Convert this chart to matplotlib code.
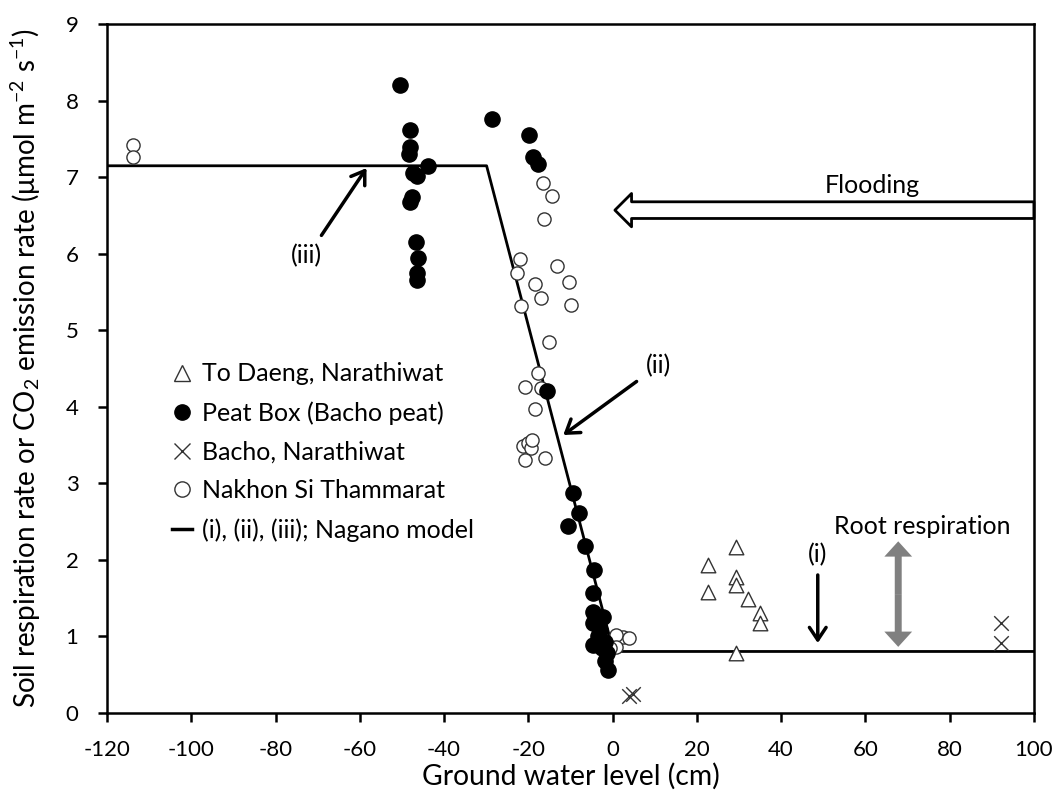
import matplotlib
matplotlib.use("Agg")
import matplotlib.pyplot as plt
from matplotlib.lines import Line2D

plt.rcParams['font.family'] = ['Lato', 'DejaVu Sans']
plt.rcParams['axes.unicode_minus'] = False
plt.rcParams['mathtext.fontset'] = 'custom'
plt.rcParams['mathtext.rm'] = 'Lato'
plt.rcParams['mathtext.it'] = 'Lato:italic'

# Peat Box (Bacho peat) - filled circles
peat_x = [-50.5, -48.1, -48.0, -48.2, -43.8, -47.3, -46.4, -48.0, -47.6, -46.7, -46.1, -46.5, -46.4,
          -28.7, -19.9, -18.8, -17.6, -15.5, -9.5, -8.0, -10.5, -6.6, -4.4, -4.6, -4.6, -2.2,
          -4.6, -3.0, -4.6, -1.8, -1.4, -1.8, -1.0, -3.5, -2.5]
peat_y = [8.20, 7.62, 7.39, 7.30, 7.15, 7.05, 7.01, 6.67, 6.74, 6.16, 5.95, 5.75, 5.66,
          7.76, 7.55, 7.27, 7.17, 4.21, 2.87, 2.61, 2.44, 2.18, 1.87, 1.57, 1.32, 1.25,
          1.17, 1.08, 0.885, 0.93, 0.78, 0.67, 0.56, 1.00, 0.85]

# Nakhon Si Thammarat - open circles
nakhon_x = [-113.8, -113.8, -16.5, -14.3, -16.3, -22.0, -22.6, -13.1, -18.3, -10.3, -16.9, -9.9,
            -21.8, -15.2, -17.6, -20.8, -17.1, -18.4, -21.2, -20.0, -19.4, -20.8, -16.1, -19.2,
            2.5, 0.9, 0.9, 4.0, -0.5]
nakhon_y = [7.42, 7.27, 6.92, 6.75, 6.45, 5.93, 5.75, 5.84, 5.61, 5.63, 5.42, 5.33,
            5.32, 4.84, 4.44, 4.26, 4.24, 3.97, 3.48, 3.52, 3.46, 3.30, 3.33, 3.56,
            0.99, 1.02, 0.86, 0.97, 0.85]

# To Daeng, Narathiwat - open triangles
daeng_x = [22.7, 29.3, 22.7, 29.3, 29.3, 32.2, 35.1, 35.1, 29.3]
daeng_y = [1.93, 2.17, 1.58, 1.78, 1.67, 1.48, 1.30, 1.17, 0.78]

# Bacho, Narathiwat - crosses
bacho_x = [4.0, 4.8, 92.1, 92.1]
bacho_y = [0.22, 0.24, 1.17, 0.91]

# Nagano model (i), (ii), (iii)
model_x = [-120, -29.9, 0.2, 100]
model_y = [7.15, 7.15, 0.8, 0.8]

fig = plt.figure(figsize=(10.55, 7.96), dpi=100)
ax = fig.add_axes([0.1014, 0.1047, 0.8786, 0.8648])

ax.plot(model_x, model_y, color='black', lw=2, zorder=2)
ax.scatter(nakhon_x, nakhon_y, s=90, facecolors='white', edgecolors='#333333', linewidths=1, zorder=3)
ax.scatter(peat_x, peat_y, s=120, color='black', zorder=4)
ax.scatter(daeng_x, daeng_y, s=110, marker='^', facecolors='white', edgecolors='#333333', linewidths=1, zorder=3)
ax.scatter(bacho_x, bacho_y, s=110, marker='x', color='#333333', linewidths=1, zorder=3)

ax.set_xlim(-120, 100)
ax.set_ylim(0, 9)
ax.set_xticks(range(-120, 101, 20))
ax.set_yticks(range(0, 10))
for s in ax.spines.values():
    s.set_linewidth(1.8)
ax.tick_params(direction='out', length=6.5, width=1.8, labelsize=16)
ax.tick_params(axis='y', pad=14)
ax.tick_params(axis='x', pad=13)

ax.set_xlabel('Ground water level (cm)', fontsize=20.3, labelpad=2)
ax.set_ylabel('Soil respiration rate or CO$_2$ emission rate (μmol m$^{-2}$ s$^{-1}$)',
              fontsize=20, labelpad=16)

# legend
handles = [
    Line2D([], [], ls='none', marker='^', ms=11, mfc='white', mec='#333333', mew=1),
    Line2D([], [], ls='none', marker='o', ms=11, mfc='black', mec='black'),
    Line2D([], [], ls='none', marker='x', ms=11, color='#333333', mew=1),
    Line2D([], [], ls='none', marker='o', ms=11, mfc='white', mec='#333333', mew=1),
    Line2D([], [], color='black', lw=2.5),
]
labels = ['To Daeng, Narathiwat', 'Peat Box (Bacho peat)', 'Bacho, Narathiwat',
          'Nakhon Si Thammarat', '(i), (ii), (iii); Nagano model']
ax.legend(handles, labels, loc='upper left', bbox_to_anchor=(0.057, 0.527), frameon=False,
          fontsize=18, handlelength=0.8, handletextpad=0.4, labelspacing=0.63, borderpad=0)

# annotations
arrow_kw = dict(arrowstyle='->,head_length=0.45,head_width=0.3', lw=2.5,
                color='black', mutation_scale=20, shrinkA=0, shrinkB=0)
ax.annotate('', xy=(-58.4, 7.12), xytext=(-69.1, 6.24), arrowprops=arrow_kw)
ax.text(-72.6, 5.87, '(iii)', fontsize=18, ha='center', va='baseline')

ax.annotate('', xy=(-11.7, 3.63), xytext=(5.7, 4.33), arrowprops=arrow_kw)
ax.text(11.0, 4.44, '(ii)', fontsize=18, ha='center', va='baseline')

ax.annotate('', xy=(48.7, 0.91), xytext=(48.7, 1.80), arrowprops=arrow_kw)
ax.text(48.7, 1.97, '(i)', fontsize=18, ha='center', va='baseline')

# flooding arrow
ax.annotate('', xy=(0.55, 6.57), xytext=(100, 6.57),
            arrowprops=dict(arrowstyle='simple,head_length=1.2,head_width=2.4,tail_width=1.2',
                            fc='white', ec='black', lw=2, mutation_scale=10, shrinkA=0, shrinkB=0))
ax.text(61.6, 6.79, 'Flooding', fontsize=18, ha='center', va='baseline')

# root respiration double arrow
for end in (2.24, 0.86):
    ax.annotate('', xy=(67.8, end), xytext=(67.8, 1.55),
                arrowprops=dict(arrowstyle='simple,head_length=1.1,head_width=2.0,tail_width=0.5',
                                fc='#808080', ec='#808080', lw=0, mutation_scale=10,
                                shrinkA=0, shrinkB=0))
ax.text(73.5, 2.34, 'Root respiration', fontsize=18, ha='center', va='baseline')

fig.savefig('out.png', dpi=100)
